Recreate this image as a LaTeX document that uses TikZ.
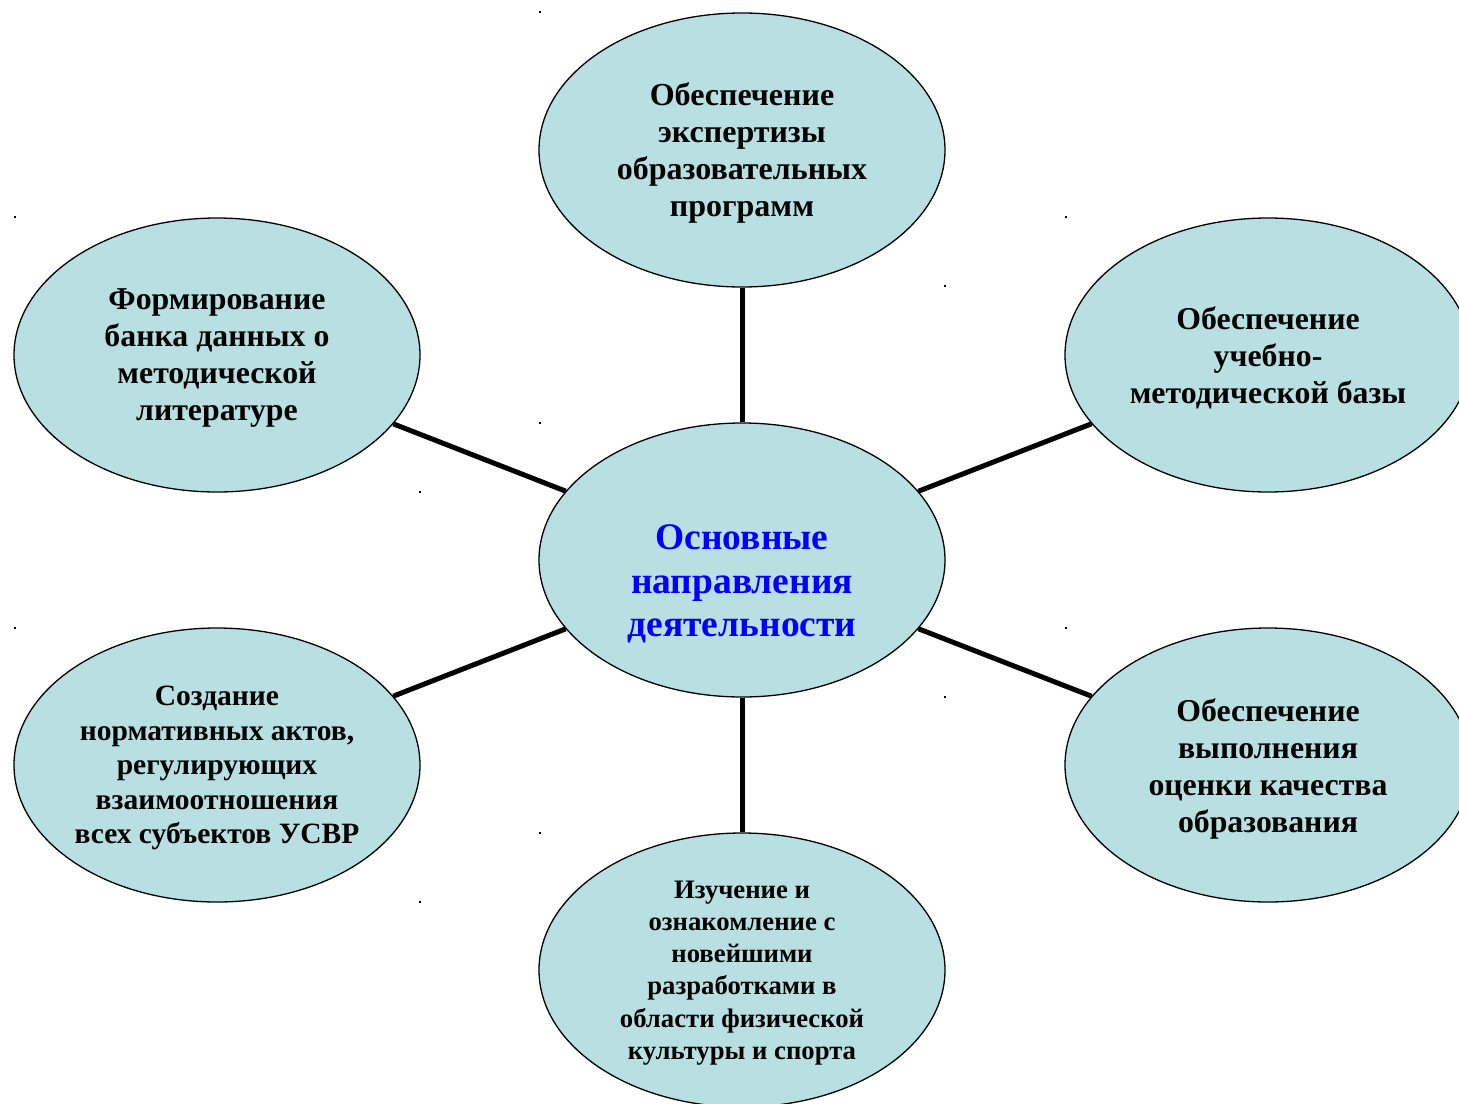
\documentclass[tikz,border=0pt]{standalone}
\usepackage{fontspec}
\setmainfont{Liberation Serif}
\usetikzlibrary{shapes.geometric}
\definecolor{ellfill}{RGB}{184,223,226}
\definecolor{ctrblue}{RGB}{0,0,255}
\tikzset{
  bubble/.style={ellipse, draw=black, line width=1.3pt, fill=ellfill, minimum width=406pt, minimum height=274pt, inner sep=0pt},
  lbl/.style={align=center, font=\bfseries, inner sep=0pt},
  spoke/.style={line width=5pt, black},
  speck/.style={fill=black, inner sep=0pt, minimum size=2.2pt, rectangle}
}
\begin{document}
\begin{tikzpicture}[x=1pt,y=-1pt]
\useasboundingbox (0,0) rectangle (1459,1103);
\node[bubble] (c) at (742,560) {};
\node[bubble] (t) at (742,150) {};
\node[bubble] (tl) at (217,355) {};
\node[bubble] (tr) at (1268,355) {};
\node[bubble] (bl) at (217,765) {};
\node[bubble] (br) at (1268,765) {};
\node[bubble] (b) at (742,970) {};
\draw[spoke] (c) -- (t);
\draw[spoke] (c) -- (tl);
\draw[spoke] (c) -- (tr);
\draw[spoke] (c) -- (bl);
\draw[spoke] (c) -- (br);
\draw[spoke] (c) -- (b);
\node[lbl, text=ctrblue, font=\bfseries\fontsize{37.5}{43.5}\selectfont] (ct) at (742,584) {Основные\\направления\\деятельности};
\node[lbl, font=\bfseries\fontsize{32}{37}\selectfont] (tt) at (742,153) {Обеспечение\\экспертизы\\образовательных\\программ};
\node[lbl, font=\bfseries\fontsize{31.8}{37}\selectfont] (tlt) at (217,358) {Формирование\\банка данных о\\методической\\литературе};
\node[lbl, font=\bfseries\fontsize{31.8}{37}\selectfont] (trt) at (1268,358) {Обеспечение\\учебно-\\методической базы};
\node[lbl, font=\bfseries\fontsize{31.8}{37}\selectfont] (brt) at (1268,769) {Обеспечение\\выполнения\\оценки качества\\образования};
\node[lbl, font=\bfseries\fontsize{29.5}{34.5}\selectfont] (blt) at (217,768) {Создание\\нормативных актов,\\регулирующих\\взаимоотношения\\всех субъектов УСВР};
\node[lbl, font=\bfseries\fontsize{26.7}{32.2}\selectfont] (bt) at (742,973) {Изучение и\\ознакомление с\\новейшими\\разработками в\\области физической\\культуры и спорта};
\foreach \p in {(540,12),(15,217),(1066,217),(945,286),(540,423),(420,492),(15,628),(1066,628),(945,697),(540,833),(420,902)}
  \node[speck] at \p {};
\end{tikzpicture}
\end{document}
